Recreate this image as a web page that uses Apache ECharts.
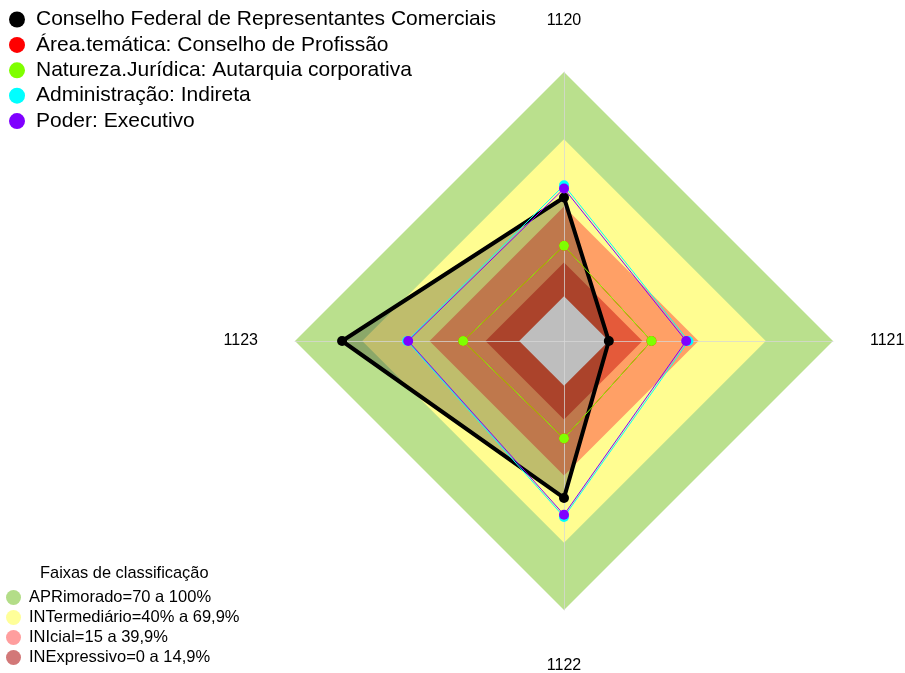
<!DOCTYPE html>
<html>
<head>
<meta charset="utf-8">
<script src="https://cdn.jsdelivr.net/npm/echarts@6/dist/echarts.min.js"></script>
<style>
html,body{margin:0;padding:0;background:#fff;}
#chart{width:905px;height:673px;}
</style>
</head>
<body>
<div id="chart"></div>
<script>
// Axes in the picture: 1120 top, 1121 right, 1122 bottom, 1123 left
const axes = ['1120', '1121', '1122', '1123'];
const seriesNames = [
  'Conselho Federal de Representantes Comerciais',
  'Área.temática: Conselho de Profissão',
  'Natureza.Jurídica: Autarquia corporativa',
  'Administração: Indireta',
  'Poder: Executivo'
];
const seriesColors = ['#000000', '#FF0000', '#7FFF00', '#00FFFF', '#7F00FF'];
// values per axis, in the order of `axes`
const conselho   = [44, 0, 50, 79];
const areaTemat  = [22.5, 19, 23.5, 25];
const natureza   = [22.5, 19, 23.5, 25];
const adminInd   = [49.5, 35.5, 58.5, 50];
const poderExec  = [48, 34.5, 57.5, 49.5];

// classification bands
const bandNames = ['APRimorado=70 a 100%', 'INTermediário=40% a 69,9%', 'INIcial=15 a 39,9%', 'INExpressivo=0 a 14,9%'];
const bandTops = [100, 70, 40, 15];
const bandFill = ['#BAE08D', '#FFFD91', '#FFA066', '#E45A3A'];
const bandLegendColor = ['#B3DD88', '#FFFF99', '#FF9E9E', '#D27878'];
const axisMin = -20, axisMax = 100;

// ECharts radar places indicators counter-clockwise: top, left, bottom, right
const order = [0, 3, 2, 1];
const re = arr => order.map(i => arr[i]);

const FONT = 'Liberation Sans, Arial';
const nameRich = {
  t: {fontSize: 16, color: '#000', fontFamily: FONT, padding: [0, 0, 6, 0]},
  b: {fontSize: 16, color: '#000', fontFamily: FONT, padding: [11, 0, 0, 0]},
  s: {fontSize: 16, color: '#000', fontFamily: FONT}
};

const series = [];
// bands
bandTops.forEach((top, k) => {
  series.push({
    type: 'radar', z: 1, silent: true, symbol: 'none',
    lineStyle: {width: 0, opacity: 0},
    itemStyle: {color: bandLegendColor[k]},
    areaStyle: {color: bandFill[k], opacity: 1},
    data: [{name: bandNames[k], value: axes.map(() => top)}]
  });
});
// black series fill (below the grey centre)
series.push({
  type: 'radar', z: 1, silent: true, symbol: 'none',
  lineStyle: {width: 0, opacity: 0},
  itemStyle: {color: '#000'},
  areaStyle: {color: 'rgba(0,0,0,0.25)', opacity: 1},
  data: [{name: '_fill', value: re(conselho)}]
});
// grey centre (below value 0)
series.push({
  type: 'radar', z: 1, silent: true, symbol: 'none',
  lineStyle: {width: 0, opacity: 0},
  itemStyle: {color: '#BEBEBE'},
  areaStyle: {color: '#BEBEBE', opacity: 1},
  data: [{name: '_centre', value: axes.map(() => 0)}]
});

const lines = [
  {idx: 1, vals: areaTemat, w: 1, s: 10},
  {idx: 0, vals: conselho, w: 4, s: 10},
  {idx: 2, vals: natureza, w: 1, s: 10},
  {idx: 3, vals: adminInd, w: 1, s: 10},
  {idx: 4, vals: poderExec, w: 1, s: 10}
];
lines.forEach(l => {
  series.push({
    type: 'radar', z: 3, symbol: 'circle', symbolSize: l.s,
    lineStyle: {width: l.w, color: seriesColors[l.idx]},
    itemStyle: {color: seriesColors[l.idx]},
    data: [{name: seriesNames[l.idx], value: re(l.vals)}]
  });
});

const chart = echarts.init(document.getElementById('chart'), null, {renderer: 'canvas'});
chart.setOption({
  animation: false,
  backgroundColor: '#fff',
  title: {
    text: 'Faixas de classificação', left: 40, top: 565, padding: 0,
    textStyle: {fontSize: 16.4, fontWeight: 'normal', color: '#000', fontFamily: FONT}
  },
  legend: [
    {
      data: seriesNames, orient: 'vertical', left: 4, top: 4, icon: 'circle',
      itemWidth: 28, itemHeight: 16, itemGap: 4.4,
      selectedMode: false,
      textStyle: {fontSize: 21, color: '#000', fontFamily: FONT}
    },
    {
      data: bandNames, orient: 'vertical', left: 6, top: 589, padding: 0, icon: 'circle',
      itemWidth: 21, itemHeight: 15, itemGap: 3,
      selectedMode: false,
      textStyle: {fontSize: 16.5, color: '#000', fontFamily: FONT}
    }
  ],
  radar: {
    z: 2,
    center: [564, 341],
    radius: 269,
    startAngle: 90,
    shape: 'polygon',
    splitNumber: 1,
    nameGap: 37,
    indicator: re(axes).map(n => ({name: n, min: axisMin, max: axisMax})),
    axisName: {
      color: '#000', fontSize: 16, fontFamily: FONT,
      formatter: n => (n === '1120' ? '{t|' + n + '}' : n === '1122' ? '{b|' + n + '}' : '{s|' + n + '}'),
      rich: nameRich
    },
    axisLine: {show: true, lineStyle: {color: 'rgba(215,215,215,0.75)', width: 1}},
    splitLine: {show: false},
    splitArea: {show: false},
    axisTick: {show: false},
    axisLabel: {show: false}
  },
  series: series
});
</script>
</body>
</html>
